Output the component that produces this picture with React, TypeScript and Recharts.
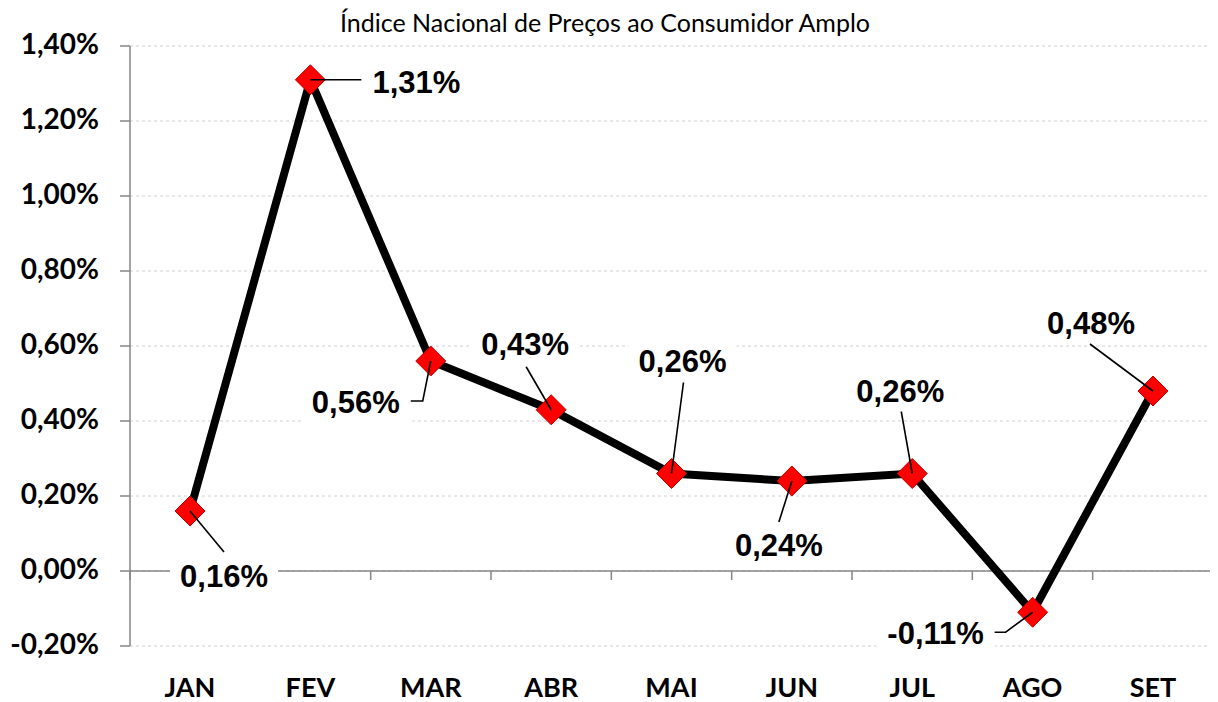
import { LineChart, Line, XAxis, YAxis, CartesianGrid, ReferenceLine, LabelList } from "recharts";

const title = "Índice Nacional de Preços ao Consumidor Amplo";
const months = ["JAN", "FEV", "MAR", "ABR", "MAI", "JUN", "JUL", "AGO", "SET"];
const ipca = [0.16, 1.31, 0.56, 0.43, 0.26, 0.24, 0.26, -0.11, 0.48];
const yTicks = [-0.2, 0, 0.2, 0.4, 0.6, 0.8, 1.0, 1.2, 1.4];

const data = months.map((m, i) => ({ month: m, value: ipca[i] }));

// where each data label sits relative to its point, and the leader line path
const labelLayout = [
  { dx: 34, dy: 65, leader: [[34, 41]] },
  { dx: 106, dy: 2, leader: [[51, 0]] },
  { dx: -75, dy: 41, leader: [[-8, 40], [-20, 40]] },
  { dx: -26, dy: -66, leader: [[-25, -43]] },
  { dx: 11, dy: -113, leader: [[12, -91]] },
  { dx: -13, dy: 64, leader: [[-13, 41]] },
  { dx: -12, dy: -83, leader: [[-11, -62]] },
  { dx: -97, dy: 21, leader: [[-27, 20], [-38, 20]] },
  { dx: -62, dy: -68, leader: [[-63, -47]] },
];

const fmt = (v: number) => v.toFixed(2).replace(".", ",") + "%";
const LABEL_FONT = "'Liberation Sans', Arial, sans-serif";
const AXIS_FONT = "Lato, 'Open Sans', sans-serif";
const LABEL_SIZE = 31;

function textWidth(s: string) {
  let w = 0;
  for (const c of s) {
    if (c === ",") w += 0.278;
    else if (c === "%") w += 0.889;
    else if (c === "-") w += 0.333;
    else w += 0.556;
  }
  return w * LABEL_SIZE;
}

const Diamond = (p: any) => {
  const { cx, cy } = p;
  if (cx == null || cy == null) return <g />;
  const r = 15;
  return (
    <polygon
      points={`${cx},${cy - r} ${cx + r},${cy} ${cx},${cy + r} ${cx - r},${cy}`}
      fill="#ff0000"
      stroke="#c00000"
      strokeWidth={1}
    />
  );
};

const DataLabel = (p: any) => {
  const { x, y, value, index } = p;
  const lay = labelLayout[index];
  if (!lay) return null;
  const txt = fmt(value);
  const w = textWidth(txt) + 20;
  const h = 40;
  const tx = x + lay.dx;
  const ty = y + lay.dy;
  const pts = [[x, y], ...lay.leader.map(([a, b]) => [x + a, y + b])];
  return (
    <g>
      <rect x={tx - w / 2} y={ty - h / 2} width={w} height={h} fill="#ffffff" />
      <polyline points={pts.map((q) => q.join(",")).join(" ")} fill="none" stroke="#000" strokeWidth={1.6} />
      <text
        x={tx}
        y={ty + LABEL_SIZE * 0.36}
        textAnchor="middle"
        fontFamily={LABEL_FONT}
        fontWeight="bold"
        fontSize={LABEL_SIZE}
        fill="#000"
      >
        {txt}
      </text>
    </g>
  );
};

const ZeroAxis = (p: any) => {
  const { x1, y1, x2 } = p;
  if (x1 == null) return <g />;
  const n = months.length;
  const step = (x2 - x1) / n;
  return (
    <g>
      <line x1={x1} y1={y1} x2={x2} y2={y1} stroke="#868686" strokeWidth={1.5} />
      {months.map((_, k) => (
        <line key={k} x1={x1 + (k + 1) * step} y1={y1} x2={x1 + (k + 1) * step} y2={y1 + 9} stroke="#868686" strokeWidth={1.5} />
      ))}
      <line x1={x1} y1={y1} x2={x1} y2={y1 + 9} stroke="#868686" strokeWidth={1.5} />
    </g>
  );
};

const YTick = (p: any) => {
  const { x, y, payload } = p;
  return (
    <text x={x} y={y + 8} textAnchor="end" fontFamily={AXIS_FONT} fontWeight="bold" fontSize={28} fill="#000">
      {fmt(payload.value)}
    </text>
  );
};

const XTick = (p: any) => {
  const { x, y, payload } = p;
  return (
    <text x={x} y={y + 43} textAnchor="middle" fontFamily={AXIS_FONT} fontWeight="bold" fontSize={27} fill="#000">
      {payload.value}
    </text>
  );
};

export default function App() {
  return (
    <div style={{ position: "relative", width: 1210, height: 694 }}>
      <LineChart width={1210} height={694} data={data} margin={{ top: 38, right: 5, left: 0, bottom: 0 }}>
        <CartesianGrid vertical={false} stroke="#d0d0d0" strokeDasharray="3 3" />
        <XAxis
          dataKey="month"
          axisLine={false}
          tickLine={false}
          height={56}
          tick={<XTick />}
          interval={0}
          padding={{ left: 60, right: 60 }}
        />
        <YAxis
          width={122}
          domain={[-0.2, 1.4]}
          ticks={yTicks}
          interval={0}
          stroke="#868686"
          tickSize={10}
          tickMargin={21}
          tick={<YTick />}
          axisLine={{ stroke: "#868686", strokeWidth: 1.5 }}
          tickLine={{ stroke: "#868686", strokeWidth: 1.5 }}
        />
        <ReferenceLine y={0} shape={<ZeroAxis />} />
        <Line
          type="linear"
          dataKey="value"
          stroke="#000000"
          strokeWidth={8}
          dot={<Diamond />}
          activeDot={false}
          isAnimationActive={false}
        >
          <LabelList dataKey="value" content={<DataLabel />} />
        </Line>
      </LineChart>
      <svg style={{ position: "absolute", left: 0, top: 0 }} width={1210} height={40}>
        <text x={597} y={24} textAnchor="middle" fontFamily={AXIS_FONT} fontSize={25} fill="#000">
          {title}
        </text>
      </svg>
    </div>
  );
}
